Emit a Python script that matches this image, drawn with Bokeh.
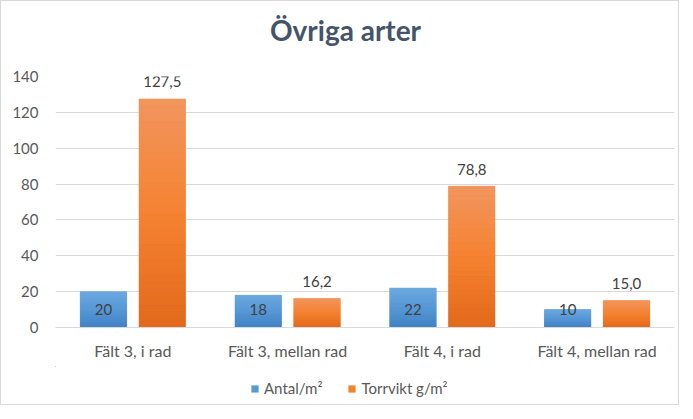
from bokeh.plotting import figure
from bokeh.layouts import column
from bokeh.models import (ColumnDataSource, FactorRange, Range1d, FixedTicker,
                          Legend, LegendItem, Label)
from bokeh.transform import dodge
from bokeh.core.properties import value
from bokeh.embed import file_html
from bokeh.resources import INLINE

# ---- data ----
categories = ["Fält 3, i rad", "Fält 3, mellan rad", "Fält 4, i rad", "Fält 4, mellan rad"]
antal = [20, 18, 22, 10]
torrvikt = [127.5, 16.2, 78.8, 15.0]
antal_labels = ["20", "18", "22", "10"]
torrvikt_labels = ["127,5", "16,2", "78,8", "15,0"]
y_ticks = [0, 20, 40, 60, 80, 100, 120, 140]
series_names = ["Antal/m²", "Torrvikt g/m²"]
title_text = "Övriga arter"

FONT = "Lato"
GREY = "#595959"
W_FIG = 677
ML, MR = 54, 4
H_TITLE, H_MAIN, H_LEG = 65, 300, 38

BLUE = ("#6eaae0", "#5798d6", "#4182c4")
ORANGE = ("#f2965f", "#f58231", "#e2691b")


def blank_fig(h):
    f = figure(width=W_FIG, height=h, x_range=Range1d(ML, W_FIG - MR), y_range=Range1d(0, h),
               x_axis_location=None, y_axis_location=None,
               output_backend="svg", toolbar_location=None,
               min_border_left=ML, min_border_right=MR, min_border_top=0, min_border_bottom=0)
    f.outline_line_color = None
    f.xgrid.visible = False
    f.ygrid.visible = False
    f.background_fill_color = "white"
    f.border_fill_color = "white"
    return f


# ---- title strip ----
pt = blank_fig(H_TITLE)
pt.add_layout(Label(x=344, y=H_TITLE - 28, text=title_text, text_align="center",
                    text_baseline="alphabetic", text_font=FONT, text_font_style="bold",
                    text_font_size="28px", text_color="#44546a"))

# ---- main chart ----
p = figure(x_range=FactorRange(*categories, range_padding=0),
           y_range=Range1d(0, 140),
           width=W_FIG, height=H_MAIN,
           output_backend="svg", toolbar_location=None,
           min_border_left=ML, min_border_right=MR,
           min_border_top=10, min_border_bottom=39)
p.x_range.range_padding = 0
p.outline_line_color = None
p.background_fill_color = "white"
p.border_fill_color = "white"

p.xaxis.axis_line_color = "#d9d9d9"
p.xaxis.major_tick_line_color = None
p.xaxis.minor_tick_line_color = None
p.xaxis.major_tick_out = 0
p.xaxis.major_label_standoff = 13
p.xaxis.major_label_text_font = FONT
p.xaxis.major_label_text_font_size = "16px"
p.xaxis.major_label_text_color = GREY

p.yaxis.axis_line_color = None
p.yaxis.major_tick_line_color = None
p.yaxis.minor_tick_line_color = None
p.yaxis.major_tick_out = 0
p.yaxis.major_label_standoff = 17
p.yaxis.ticker = FixedTicker(ticks=y_ticks)
p.yaxis.major_label_text_font = FONT
p.yaxis.major_label_text_font_size = "15px"
p.yaxis.major_label_text_color = GREY

p.xgrid.grid_line_color = None
p.ygrid.grid_line_color = "#d9d9d9"
p.ygrid.grid_line_width = 1
p.ygrid.ticker = FixedTicker(ticks=y_ticks)

OFF = 0.19
W = 0.30


def hexmix(c1, c2, t):
    a = [int(c1[i:i + 2], 16) for i in (1, 3, 5)]
    b = [int(c2[i:i + 2], 16) for i in (1, 3, 5)]
    return "#%02x%02x%02x" % tuple(round(a[j] + (b[j] - a[j]) * t) for j in range(3))


def grad(cols, t):
    top, mid, bot = cols
    if t < 0.5:
        return hexmix(bot, mid, t / 0.5)
    return hexmix(mid, top, (t - 0.5) / 0.5)


def draw_series(vals, offset, cols):
    base = ColumnDataSource(dict(x=categories, top=vals))
    p.vbar(x=dodge("x", offset, range=p.x_range), top="top", bottom=0, width=W,
           source=base, fill_color=cols[1], line_color=None)
    N = 30
    xs, bots, tops, cs = [], [], [], []
    for c, v in zip(categories, vals):
        for k in range(N):
            xs.append(c)
            bots.append(v * k / N)
            tops.append(v * (k + 1) / N)
            cs.append(grad(cols, (k + 0.5) / N))
    src = ColumnDataSource(dict(x=xs, bottom=bots, top=tops, color=cs))
    p.vbar(x=dodge("x", offset, range=p.x_range), top="top", bottom="bottom", width=W,
           source=src, fill_color="color", line_color="color", line_width=0.5)


draw_series(antal, -OFF, BLUE)
draw_series(torrvikt, OFF, ORANGE)

blue_lbl = ColumnDataSource(dict(x=categories, y=[10] * len(categories), t=antal_labels))
p.text(x=dodge("x", -OFF, range=p.x_range), y="y", text="t", source=blue_lbl,
       text_align="center", text_baseline="middle", text_font=value(FONT),
       text_font_size="15px", text_color="#404040")
orange_lbl = ColumnDataSource(dict(x=categories, y=torrvikt, t=torrvikt_labels))
p.text(x=dodge("x", OFF, range=p.x_range), y="y", text="t", source=orange_lbl,
       text_align="center", text_baseline="middle", y_offset=-17, text_font=value(FONT),
       text_font_size="15px", text_color="#404040")

# ---- legend strip (series placed on a y range where they fall outside the view,
#      so only their legend swatches appear) ----
pl = blank_fig(H_LEG)
pl.extra_y_ranges = {"off": Range1d(-2000, -1000)}
idx = list(range(len(categories)))
lr_blue = pl.vbar(x="x", top="top", width=W,
                  source=ColumnDataSource(dict(x=idx, top=antal)),
                  y_range_name="off", fill_color=BLUE[1], line_color=None)
lr_orange = pl.vbar(x="x", top="top", width=W,
                    source=ColumnDataSource(dict(x=idx, top=torrvikt)),
                    y_range_name="off", fill_color=ORANGE[1], line_color=None)
legend = Legend(items=[LegendItem(label=series_names[0], renderers=[lr_blue]),
                       LegendItem(label=series_names[1], renderers=[lr_orange])],
                orientation="horizontal", location=(249 - ML, 7),
                glyph_width=9, glyph_height=9, label_standoff=5, spacing=25,
                padding=0, margin=0, border_line_color=None,
                background_fill_alpha=0,
                label_text_font=FONT, label_text_font_size="15px",
                label_text_color=GREY, label_height=18)
pl.add_layout(legend)

layout = column(pt, p, pl, spacing=0)
layout.styles = {"border": "1px solid #d9d9d9"}

open("out.html", "w").write(file_html(layout, INLINE))
